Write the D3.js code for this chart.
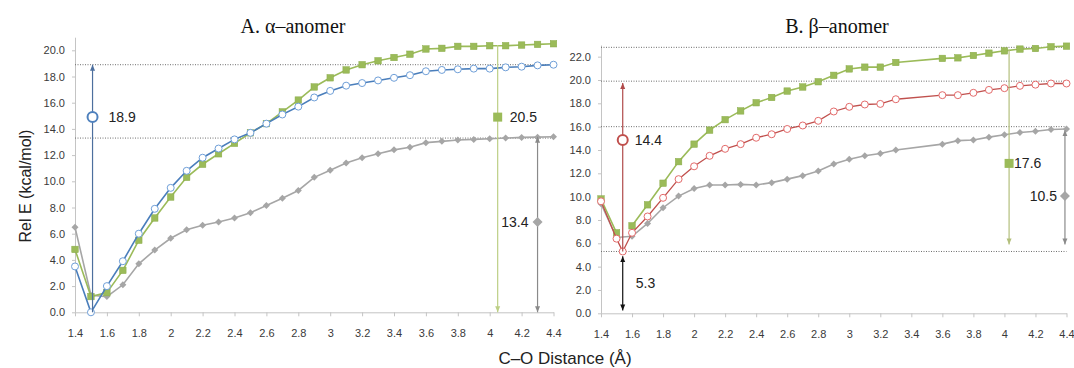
<!DOCTYPE html>
<html>
<head>
<meta charset="utf-8">
<script src="https://cdn.jsdelivr.net/npm/d3@7"></script>
<style>
body { margin: 0; background: #fff; }
.axis text { font-family: "Liberation Sans", Arial, sans-serif; font-size: 11px; fill: #3a3a3a; }
.axis path, .axis line { stroke: #c4c4c4; }
</style>
</head>
<body>
<svg id="chart" width="1074" height="368"></svg>
<script>
// ---- data ----
// A. alpha-anomer, C-O distance (A)
var xA = [1.4,1.5,1.6,1.7,1.8,1.9,2.0,2.1,2.2,2.3,2.4,2.5,2.6,2.7,2.8,2.9,3.0,3.1,3.2,3.3,3.4,3.5,3.6,3.7,3.8,3.9,4.0,4.1,4.2,4.3,4.4];
var alphaBlue  = [3.5,0.0,2.0,3.9,6.0,7.9,9.5,10.8,11.8,12.5,13.2,13.7,14.4,15.1,15.7,16.4,16.9,17.3,17.5,17.7,17.9,18.1,18.4,18.5,18.55,18.6,18.6,18.7,18.75,18.85,18.9];
var alphaGreen = [4.8,1.2,1.5,3.2,5.5,7.2,8.8,10.3,11.3,12.1,12.9,13.7,14.4,15.3,16.2,17.2,17.9,18.5,18.9,19.2,19.45,19.7,20.1,20.15,20.3,20.3,20.35,20.35,20.4,20.45,20.5];
var alphaGray  = [6.5,1.3,1.2,2.1,3.7,4.75,5.65,6.3,6.65,6.9,7.2,7.6,8.15,8.7,9.3,10.3,10.85,11.4,11.8,12.1,12.4,12.6,12.95,13.05,13.15,13.2,13.25,13.3,13.35,13.37,13.4];

// B. beta-anomer (no points at 3.4 / 3.5)
var xB = [1.4,1.5,1.54,1.6,1.7,1.8,1.9,2.0,2.1,2.2,2.3,2.4,2.5,2.6,2.7,2.8,2.9,3.0,3.1,3.2,3.3,3.6,3.7,3.8,3.9,4.0,4.1,4.2,4.3,4.4];
var betaRed   = [9.6,6.4,5.3,6.9,8.3,9.9,11.5,12.6,13.5,14.1,14.5,15.05,15.35,15.8,16.1,16.5,17.3,17.7,17.9,17.95,18.35,18.7,18.7,18.9,19.15,19.3,19.5,19.6,19.7,19.7];
var betaGreen = [9.8,6.9,null,7.5,9.3,11.15,13.0,14.5,15.7,16.6,17.35,18.05,18.5,19.05,19.4,19.85,20.4,20.95,21.1,21.1,21.5,21.85,21.9,22.1,22.3,22.5,22.65,22.7,22.85,22.9];
var betaGray  = [9.4,6.5,null,6.6,7.7,9.05,10.05,10.7,11.0,11.0,11.05,11.0,11.2,11.5,11.8,12.2,12.8,13.2,13.5,13.7,14.0,14.5,14.8,14.85,15.1,15.3,15.5,15.6,15.75,15.8];

var xTicks  = [1.4,1.6,1.8,2.0,2.2,2.4,2.6,2.8,3.0,3.2,3.4,3.6,3.8,4.0,4.2,4.4];
var yTicksA = [0,2,4,6,8,10,12,14,16,18,20];
var yTicksB = [0,2,4,6,8,10,12,14,16,18,20,22];

// dotted reference levels
var refA = [18.9, 13.3];
var refB = [22.8, 19.9, 16.0, 5.3];

// annotation arrows (x, from, to) and labelled markers
var arrowsA = [
  {x: 1.51, y0: 0,    y1: 18.9, color: "#4d6f9e", heads: "end"},
  {x: 4.05, y0: 20.4, y1: 0,    color: "#bccf85", heads: "end"},
  {x: 4.30, y0: 0,    y1: 13.4, color: "#8a8a8a", heads: "both"}
];
var labelsA = [
  {x: 1.51, y: 14.9, text: "18.9", shape: "circle",  color: "#4f81bd", dx: 16},
  {x: 4.05, y: 14.9, text: "20.5", shape: "square",  color: "#9bbb59", dx: 12},
  {x: 4.30, y: 6.9,  text: "13.4", shape: "diamond", color: "#a6a6a6", dx: -9}
];
var arrowsB = [
  {x: 1.54, y0: 5.3,  y1: 19.75, color: "#b04a4a", heads: "end"},
  {x: 1.54, y0: 0.25, y1: 4.9,   color: "#111111", heads: "both"},
  {x: 4.03, y0: 22.6, y1: 5.9,   color: "#b3bf7c", heads: "end"},
  {x: 4.39, y0: 5.9,  y1: 15.7,  color: "#8a8a8a", heads: "both"}
];
var labelsB = [
  {x: 1.54, y: 14.85, text: "14.4", shape: "circle",  color: "#c0504d", dx: 12},
  {x: 1.54, y: 2.6,   text: "5.3",  shape: null,      color: null,      dx: 13},
  {x: 4.03, y: 12.85, text: "17.6", shape: "square",  color: "#9bbb59", dx: 5},
  {x: 4.39, y: 10.05, text: "10.5", shape: "diamond", color: "#a6a6a6", dx: -8}
];

var svg = d3.select("#chart");
var defs = svg.append("defs");
var markerCount = 0;

function arrowMarker(color) {
  var id = "ah" + (markerCount++);
  defs.append("marker")
    .attr("id", id)
    .attr("markerUnits", "userSpaceOnUse")
    .attr("markerWidth", 6).attr("markerHeight", 6)
    .attr("refX", 6).attr("refY", 3)
    .attr("orient", "auto-start-reverse")
    .append("path")
    .attr("d", "M0,0.5L6,3L0,5.5Z")
    .attr("fill", color);
  return "url(#" + id + ")";
}

function drawShape(g, shape, cx, cy, size, fill, stroke, sw) {
  if (shape == "circle") {
    g.append("circle").attr("cx", cx).attr("cy", cy).attr("r", size / 2)
      .attr("fill", fill).attr("stroke", stroke).attr("stroke-width", sw);
  } else if (shape == "square") {
    g.append("rect").attr("x", cx - size / 2).attr("y", cy - size / 2)
      .attr("width", size).attr("height", size)
      .attr("fill", fill).attr("stroke", stroke).attr("stroke-width", sw);
  } else if (shape == "diamond") {
    var h = size / 2;
    g.append("path")
      .attr("d", "M" + cx + "," + (cy - h) + "L" + (cx + h) + "," + cy + "L" + cx + "," + (cy + h) + "L" + (cx - h) + "," + cy + "Z")
      .attr("fill", fill).attr("stroke", stroke).attr("stroke-width", sw);
  }
}

function drawPanel(p) {
  var x = d3.scaleLinear().domain([1.4, 4.4]).range([p.left, p.right]);
  var y = d3.scaleLinear().domain([0, p.ymax]).range([p.bottom, p.top]);
  var g = svg.append("g");

  // axes
  g.append("g").attr("class", "axis")
    .attr("transform", "translate(0," + p.bottom + ")")
    .call(d3.axisBottom(x).tickValues(xTicks).tickFormat(d3.format("~g"))
      .tickSize(4).tickSizeOuter(0).tickPadding(13));
  g.append("g").attr("class", "axis")
    .attr("transform", "translate(" + p.left + ",0)")
    .call(d3.axisLeft(y).tickValues(p.yTicks).tickFormat(d3.format(".1f"))
      .tickSize(3).tickSizeOuter(0).tickPadding(7));

  // dotted reference lines
  g.selectAll(".ref").data(p.refs).enter().append("line")
    .attr("x1", p.left).attr("x2", p.right)
    .attr("y1", function(d) { return y(d); })
    .attr("y2", function(d) { return y(d); })
    .attr("stroke", "#6e6e6e").attr("stroke-width", 1)
    .attr("stroke-dasharray", "1,1.5");

  // title
  g.append("text").attr("x", p.titleX).attr("y", 33)
    .attr("text-anchor", "middle")
    .style("font-family", "'Liberation Serif', 'Times New Roman', serif")
    .style("font-size", "20px").style("fill", "#111")
    .text(p.title);

  // series
  p.series.forEach(function(s) {
    var pts = p.xs.map(function(d, i) { return {x: d, v: s.values[i]}; });
    var line = d3.line()
      .x(function(d) { return x(d.x); })
      .y(function(d) { return y(d.v); });
    var lineData = pts;
    if (s.gap) line.defined(function(d) { return d.v != null; });
    else lineData = pts.filter(function(d) { return d.v != null; });
    g.append("path").datum(lineData)
      .attr("d", line).attr("fill", "none")
      .attr("stroke", s.color).attr("stroke-width", s.width);
    var mg = g.append("g");
    pts.filter(function(d) { return d.v != null; }).forEach(function(d) {
      drawShape(mg, s.shape, x(d.x), y(d.v), s.size, s.fill, s.stroke, s.sw);
    });
  });

  // arrows
  p.arrows.forEach(function(a) {
    var m = arrowMarker(a.color);
    var ln = g.append("line")
      .attr("x1", x(a.x)).attr("x2", x(a.x))
      .attr("y1", y(a.y0)).attr("y2", y(a.y1))
      .attr("stroke", a.color).attr("stroke-width", 1.2)
      .attr("marker-end", m);
    if (a.heads == "both") ln.attr("marker-start", m);
  });

  // labelled markers
  p.labels.forEach(function(l) {
    var cx = x(l.x), cy = y(l.y);
    if (l.shape == "circle") drawShape(g, "circle", cx, cy, 10, "#fff", l.color, 2);
    else if (l.shape == "square") drawShape(g, "square", cx, cy, 9, l.color, "none", 0);
    else if (l.shape == "diamond") drawShape(g, "diamond", cx, cy, 10, l.color, "none", 0);
    g.append("text").attr("x", cx + l.dx).attr("y", cy)
      .attr("dy", "0.36em")
      .attr("text-anchor", l.dx < 0 ? "end" : "start")
      .style("font-family", "'Liberation Sans', Arial, sans-serif")
      .style("font-size", "14px").style("fill", "#222")
      .text(l.text);
  });
}

drawPanel({
  left: 75, right: 553.5, bottom: 312.3, top: 37.2, ymax: 21,
  yTicks: yTicksA, refs: refA, title: "A. \u03b1\u2013anomer", titleX: 293,
  xs: xA,
  series: [
    {values: alphaGray,  color: "#a6a6a6", width: 1.6, shape: "diamond", size: 7, fill: "#a6a6a6", stroke: "none", sw: 0},
    {values: alphaGreen, color: "#9bbb59", width: 1.6, shape: "square",  size: 6.5, fill: "#9bbb59", stroke: "#8aab4a", sw: 0.5},
    {values: alphaBlue,  color: "#4a7ebb", width: 1.6, shape: "circle",  size: 7, fill: "#fff", stroke: "#6f9fd8", sw: 1}
  ],
  arrows: arrowsA, labels: labelsA
});

drawPanel({
  left: 601, right: 1066.5, bottom: 313.3, top: 45.0, ymax: 23,
  yTicks: yTicksB, refs: refB, title: "B. \u03b2\u2013anomer", titleX: 837,
  xs: xB,
  series: [
    {values: betaGray,  color: "#a6a6a6", width: 1.6, shape: "diamond", size: 7, fill: "#a6a6a6", stroke: "none", sw: 0},
    {values: betaGreen, color: "#9bbb59", width: 1.6, shape: "square",  size: 6.5, fill: "#9bbb59", stroke: "#8aab4a", sw: 0.5, gap: true},
    {values: betaRed,   color: "#c0504d", width: 1.3, shape: "circle",  size: 7, fill: "#fff", stroke: "#e36a6a", sw: 1}
  ],
  arrows: arrowsB, labels: labelsB
});

// shared axis titles
svg.append("text")
  .attr("transform", "translate(31,186) rotate(-90)")
  .attr("text-anchor", "middle")
  .style("font-family", "'Liberation Sans', Arial, sans-serif")
  .style("font-size", "16px").style("fill", "#222")
  .text("Rel E (kcal/mol)");
svg.append("text")
  .attr("x", 565).attr("y", 364)
  .attr("text-anchor", "middle")
  .style("font-family", "'Liberation Sans', Arial, sans-serif")
  .style("font-size", "17px").style("fill", "#222")
  .text("C\u2013O Distance (\u00c5)");
</script>
</body>
</html>
